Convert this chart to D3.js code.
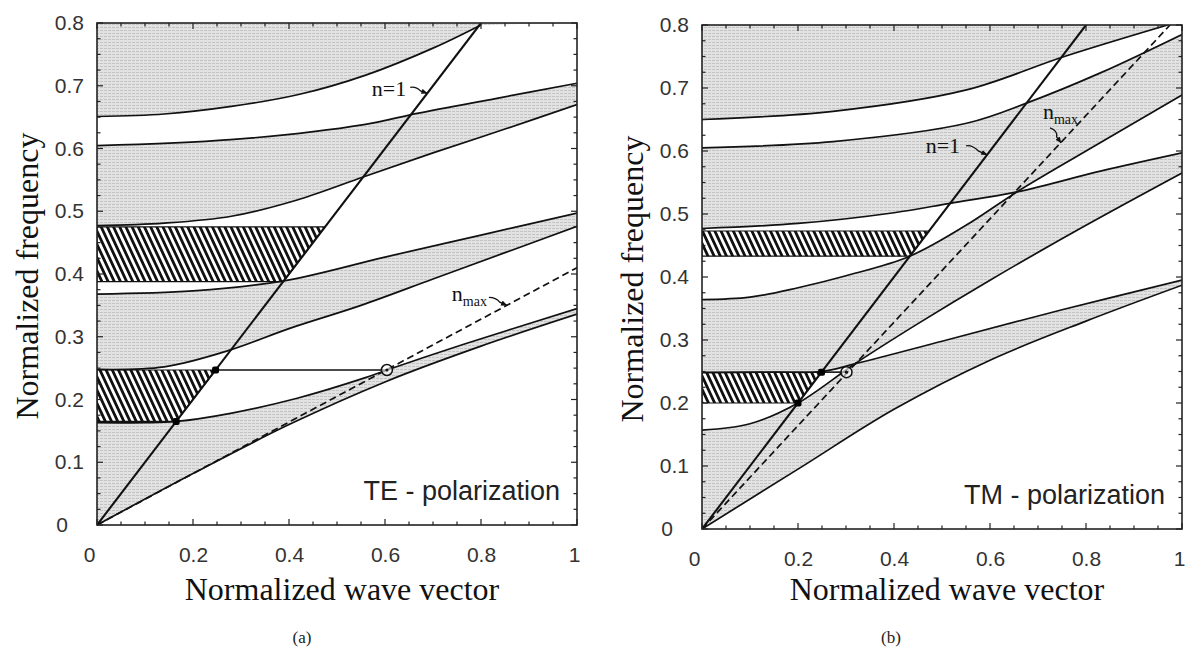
<!DOCTYPE html>
<html>
<head>
<meta charset="utf-8">
<script src="https://cdnjs.cloudflare.com/ajax/libs/d3/7.8.5/d3.min.js"></script>
<style>
  body { margin: 0; background: #fff; }
  svg { display: block; }
  .tick text { font-family: "Liberation Sans", Arial, sans-serif; font-size: 21px; fill: #333; }
</style>
</head>
<body>
<script>
// values, points are [normalized wave vector, normalized frequency]
var kTicks = [0, 0.2, 0.4, 0.6, 0.8, 1];
var wTicks = [0, 0.1, 0.2, 0.3, 0.4, 0.5, 0.6, 0.7, 0.8];

// (a) TE polarization, band edges
var teBand1Low  = [[0,0],[0.2,0.082],[0.4,0.16],[0.6,0.228],[0.8,0.285],[1,0.336]];
var teBand1High = [[0,0.163],[0.1,0.163],[0.165,0.165],[0.278,0.178],[0.417,0.202],[0.556,0.234],[0.604,0.247],[0.764,0.288],[1,0.345]];
var teBand2Low  = [[0,0.248],[0.14,0.252],[0.278,0.279],[0.4,0.313],[0.55,0.35],[0.7,0.392],[0.85,0.434],[1,0.476]];
var teBand2High = [[0,0.368],[0.2,0.373],[0.389,0.389],[0.6,0.427],[0.8,0.462],[1,0.497]];
var teBand3Low  = [[0,0.477],[0.14,0.481],[0.28,0.492],[0.417,0.518],[0.556,0.555],[0.7,0.593],[0.85,0.631],[1,0.67]];
var teBand3High = [[0,0.6045],[0.278,0.614],[0.556,0.638],[0.667,0.656],[0.833,0.68],[1,0.704]];
var teBand4Low  = [[0,0.651],[0.14,0.655],[0.28,0.667],[0.42,0.686],[0.56,0.717],[0.7,0.76],[0.8,0.797]];
var teLightLine = [[0,0],[0.8,0.8]];
var teNmaxLine  = [[0,0],[1,0.41]];
var teHatch = [
  [[0,0.165],[0.165,0.165],[0.247,0.247],[0,0.247]],
  [[0,0.388],[0.388,0.388],[0.475,0.475],[0,0.475]]
];
var teDots = [[0.165,0.165],[0.247,0.247]];
var teCircle = [0.604,0.247];

// (b) TM polarization, band edges (edges cross at the Brewster points)
var tmBand1Low = [[0,0],[0.2,0.095],[0.4,0.19],[0.6,0.268],[0.8,0.33],[1,0.387]];
var tmEdgeP = [[0,0.157],[0.1,0.167],[0.2,0.2],[0.318,0.262],[0.45,0.326],[0.6,0.395],[0.8,0.482],[1,0.565]];
var tmEdgeQ = [[0,0.248],[0.15,0.249],[0.249,0.25],[0.318,0.262],[0.5,0.298],[0.75,0.348],[1,0.395]];
var tmEdgeD = [[0,0.364],[0.1,0.368],[0.2,0.383],[0.3,0.402],[0.433,0.433],[0.55,0.482],[0.656,0.535],[0.8,0.6],[1,0.689]];
var tmEdgeC = [[0,0.477],[0.2,0.485],[0.4,0.502],[0.517,0.517],[0.656,0.535],[0.83,0.568],[1,0.597]];
var tmEdgeB = [[0,0.605],[0.273,0.615],[0.551,0.644],[0.676,0.676],[0.83,0.724],[1,0.785]];
var tmEdgeA = [[0,0.65],[0.273,0.663],[0.551,0.697],[0.755,0.75],[0.97,0.8]];
var tmLightLine = [[0,0],[0.8,0.8]];
var tmNmaxLine  = [[0,0],[0.975,0.8]];
var tmHatch = [
  [[0,0.2],[0.2,0.2],[0.249,0.249],[0,0.249]],
  [[0,0.433],[0.433,0.433],[0.473,0.473],[0,0.473]]
];
var tmDots = [[0.2,0.2],[0.249,0.249]];
var tmCircle = [0.301,0.249];

var W = 1186, H = 648;
var svg = d3.select("body").append("svg").attr("width", W).attr("height", H);
var defs = svg.append("defs");

// grey stipple of the allowed bands
var dots = defs.append("pattern").attr("id", "stipple")
  .attr("width", 4).attr("height", 3).attr("patternUnits", "userSpaceOnUse");
dots.append("rect").attr("width", 4).attr("height", 3).attr("fill", "#e2e2e2");
dots.append("rect").attr("width", 3).attr("height", 1).attr("fill", "#c4c4c4");

// diagonal hatching of the omnidirectional gaps
var hatch = defs.append("pattern").attr("id", "hatch")
  .attr("width", 5.6).attr("height", 10).attr("patternUnits", "userSpaceOnUse")
  .attr("patternTransform", "rotate(-25)");
hatch.append("rect").attr("width", 5.6).attr("height", 10).attr("fill", "#fff");
hatch.append("rect").attr("width", 2.8).attr("height", 10).attr("fill", "#111");

defs.append("marker").attr("id", "arrow")
  .attr("viewBox", "0 0 10 10").attr("refX", 9).attr("refY", 5)
  .attr("markerWidth", 5).attr("markerHeight", 5).attr("orient", "auto")
  .append("path").attr("d", "M0,1 L10,5 L0,9 Z").attr("fill", "#111");

function drawPanel(p) {
  var x = d3.scaleLinear().domain([0, 1]).range([p.left, p.left + p.w]);
  var y = d3.scaleLinear().domain([0, 0.8]).range([p.top + p.h, p.top]);
  var curve = d3.line().x(function(d){ return x(d[0]); }).y(function(d){ return y(d[1]); })
    .curve(d3.curveCatmullRom.alpha(0.5));
  var straight = d3.line().x(function(d){ return x(d[0]); }).y(function(d){ return y(d[1]); });

  defs.append("clipPath").attr("id", "clip-" + p.id)
    .append("rect").attr("x", x(0)).attr("y", y(0.8)).attr("width", p.w).attr("height", p.h);

  var g = svg.append("g").attr("clip-path", "url(#clip-" + p.id + ")");

  // everything above the lowest band edge is stippled ...
  g.append("path")
    .attr("d", curve(p.lowest) + "L" + x(1) + "," + y(0.8) + "L" + x(0) + "," + y(0.8) + "Z")
    .attr("fill", "url(#stipple)");

  // ... then the gaps between two band edges are cleared
  p.gaps.forEach(function(gp) {
    var back = curve(gp[1].slice().reverse()).slice(1);
    var d = curve(gp[0]) + (gp[2] ? "L" + x(1) + "," + y(0.8) : "") + "L" + back + "Z";
    g.append("path").attr("d", d).attr("fill", "#fff");
  });

  p.hatch.forEach(function(h) {
    g.append("path").attr("d", straight(h) + "Z").attr("fill", "url(#hatch)")
      .attr("stroke", "#111").attr("stroke-width", 1.2);
  });

  p.edges.forEach(function(e) {
    g.append("path").attr("d", curve(e)).attr("fill", "none")
      .attr("stroke", "#111").attr("stroke-width", 1.7);
  });

  g.append("path").attr("d", straight(p.light)).attr("fill", "none")
    .attr("stroke", "#111").attr("stroke-width", 2.1);
  g.append("path").attr("d", straight(p.nmax)).attr("fill", "none")
    .attr("stroke", "#111").attr("stroke-width", 1.7).attr("stroke-dasharray", "7,4");

  g.append("path").attr("d", straight([[p.dots[1][0], p.circle[1]], p.circle]))
    .attr("stroke", "#111").attr("stroke-width", 1.6);

  g.selectAll(".dot").data(p.dots).enter().append("rect").attr("class", "dot")
    .attr("x", function(d){ return x(d[0]) - 3.5; }).attr("y", function(d){ return y(d[1]) - 3.5; })
    .attr("width", 7).attr("height", 7).attr("rx", 2).attr("fill", "#000");

  g.append("circle").attr("cx", x(p.circle[0])).attr("cy", y(p.circle[1])).attr("r", 5.5)
    .attr("fill", "#fff").attr("fill-opacity", 0.6).attr("stroke", "#111").attr("stroke-width", 1.5);
  g.append("circle").attr("cx", x(p.circle[0])).attr("cy", y(p.circle[1])).attr("r", 1.6).attr("fill", "#111");

  // frame and inward ticks on all sides
  svg.append("rect").attr("x", x(0)).attr("y", y(0.8)).attr("width", p.w).attr("height", p.h)
    .attr("fill", "none").attr("stroke", "#222").attr("stroke-width", 1.6);

  var tk = svg.append("g").attr("stroke", "#222").attr("stroke-width", 1.2);
  d3.range(0, 21).forEach(function(i) {
    var v = i * 0.05, len = (i % 4 === 0) ? 6 : 3.5;
    tk.append("line").attr("x1", x(v)).attr("x2", x(v)).attr("y1", y(0)).attr("y2", y(0) - len);
    tk.append("line").attr("x1", x(v)).attr("x2", x(v)).attr("y1", y(0.8)).attr("y2", y(0.8) + len);
  });
  d3.range(0, 33).forEach(function(i) {
    var v = i * 0.025, len = (i % 4 === 0) ? 6 : 3.5;
    tk.append("line").attr("y1", y(v)).attr("y2", y(v)).attr("x1", x(0)).attr("x2", x(0) + len);
    tk.append("line").attr("y1", y(v)).attr("y2", y(v)).attr("x1", x(1)).attr("x2", x(1) - len);
  });

  var fmt = d3.format("~g");
  var ax = svg.append("g").attr("transform", "translate(0," + y(0) + ")")
    .call(d3.axisBottom(x).tickValues(kTicks).tickFormat(fmt).tickSize(0).tickPadding(22));
  ax.select(".domain").remove();
  ax.selectAll(".tick text").filter(function(d){ return d === 0; }).attr("dx", -8);
  ax.selectAll(".tick text").filter(function(d){ return d === 1; }).attr("dx", -3);

  var ay = svg.append("g").attr("transform", "translate(" + x(0) + ",0)")
    .call(d3.axisLeft(y).tickValues(wTicks).tickFormat(fmt).tickSize(0).tickPadding(13));
  ay.select(".domain").remove();
  ay.selectAll(".tick text").filter(function(d){ return d === 0; }).attr("dx", -16);

  svg.append("text").attr("x", (x(0) + x(1)) / 2 + 5).attr("y", 600)
    .attr("text-anchor", "middle").style("font-family", "'Liberation Serif', 'Times New Roman', serif")
    .style("font-size", "32px").attr("fill", "#111").text("Normalized wave vector");
  svg.append("text").attr("transform", "translate(" + (x(0) - 59) + "," + (p.top + p.h / 2 + 2) + ") rotate(-90)")
    .attr("text-anchor", "middle").style("font-family", "'Liberation Serif', 'Times New Roman', serif")
    .style("font-size", "32px").attr("fill", "#111").text("Normalized frequency");

  svg.append("text").attr("x", x(1) - 17).attr("y", y(0) - 25).attr("text-anchor", "end")
    .style("font-family", "'Liberation Sans', Arial, sans-serif").style("font-size", "27px")
    .attr("fill", "#222").text(p.label);

  svg.append("text").attr("x", p.capX).attr("y", 643).attr("text-anchor", "middle")
    .style("font-family", "'Liberation Serif', 'Times New Roman', serif").style("font-size", "17px")
    .attr("fill", "#222").text(p.caption);

  // "n=1" and "n_max" notes with small arrows
  p.notes.forEach(function(n) {
    var tx = x(n.at[0]), ty = y(n.at[1]);
    var t = svg.append("text").attr("x", tx + n.text[0]).attr("y", ty + n.text[1])
      .attr("text-anchor", "end").style("font-family", "'Liberation Serif', 'Times New Roman', serif")
      .style("font-size", "22px").attr("fill", "#111");
    t.append("tspan").text("n" + (n.sub ? "" : "=1"));
    if (n.sub) t.append("tspan").attr("dy", 5).style("font-size", "14px").text(n.sub);
    svg.append("path")
      .attr("d", "M" + (tx + n.from[0]) + "," + (ty + n.from[1]) + " q" + n.bend[0] + "," + n.bend[1] + " " + (-n.from[0] * 0.6) + "," + (-n.from[1] * 0.6) + " L" + tx + "," + ty)
      .attr("fill", "none").attr("stroke", "#111").attr("stroke-width", 1.3).attr("marker-end", "url(#arrow)");
  });
}

drawPanel({
  id: "te", left: 97, top: 23, w: 480, h: 502,
  lowest: teBand1Low,
  gaps: [[teBand1High, teBand2Low], [teBand2High, teBand3Low], [teBand3High, teBand4Low, true]],
  edges: [teBand1Low, teBand1High, teBand2Low, teBand2High, teBand3Low, teBand3High, teBand4Low],
  light: teLightLine, nmax: teNmaxLine, hatch: teHatch, dots: teDots, circle: teCircle,
  label: "TE - polarization", caption: "(a)", capX: 302,
  notes: [
    { at: [0.688, 0.688], text: [-21, 3], from: [-17, -6], bend: [6, -1], sub: "" },
    { at: [0.854, 0.350], text: [-20, -4], from: [-18, -8], bend: [7, 0], sub: "max" }
  ]
});

drawPanel({
  id: "tm", left: 702, top: 25, w: 480, h: 504,
  lowest: tmBand1Low,
  gaps: [[tmEdgeP, tmEdgeQ], [tmEdgeD, tmEdgeC], [tmEdgeB, tmEdgeA, true]],
  edges: [tmBand1Low, tmEdgeP, tmEdgeQ, tmEdgeD, tmEdgeC, tmEdgeB, tmEdgeA],
  light: tmLightLine, nmax: tmNmaxLine, hatch: tmHatch, dots: tmDots, circle: tmCircle,
  label: "TM - polarization", caption: "(b)", capX: 891,
  notes: [
    { at: [0.594, 0.594], text: [-27, -2], from: [-21, -9], bend: [6, -1], sub: "" },
    { at: [0.748, 0.613], text: [17, -24], from: [-11, -15], bend: [8, 3], sub: "max" }
  ]
});
</script>
</body>
</html>
